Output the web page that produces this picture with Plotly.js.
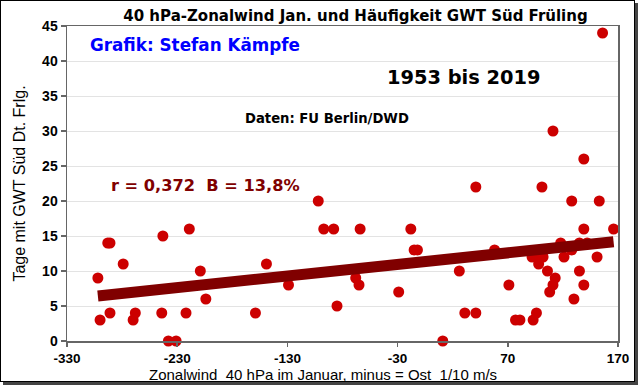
<!DOCTYPE html>
<html>
<head>
<meta charset="utf-8">
<script src="https://cdn.plot.ly/plotly-3.0.1.min.js"></script>
<style>
html,body{margin:0;padding:0;background:#fff;}
#frame{position:absolute;left:0;top:0;width:633px;height:380px;border:1px solid #000;box-shadow:3px 3px 0 #444;background:#fff;}
#chart{position:absolute;left:-1px;top:-1px;width:640px;height:387px;}
</style>
</head>
<body>
<div id="frame"></div>
<div id="chart"></div>
<script>
// Zonal wind 40 hPa January (1/10 m/s) vs. days with GWT Süd in spring, 1953-2019
const windJan = [-302,-300,-293,-291,-291,-279,-270,-268,-243,-244,-238,-231,-219,-222,-209,-204,-159,-149,-129,-102,
  -97,-88,-85,-68,-65,-64,-29,-18,-15,-12,11,26,31,41,41,58,71,77,81,93,
  96,92,96,102,98,101,106,113,111,108,111,118,121,128,128,130,135,135,139,139,
  139,142,151,153,166,156];
const daysSued = [9,3,14,14,4,11,3,4,15,4,0,0,16,4,10,6,4,11,8,20,
  16,16,5,9,8,16,7,16,13,13,0,10,4,4,22,13,8,3,3,3,
  4,12,12,12,11,22,10,9,8,7,30,14,12,20,13,6,10,14,16,26,
  8,14,12,20,16,44];
const xTicks = [-330,-230,-130,-30,70,170];
const yTicks = [0,5,10,15,20,25,30,35,40,45];

// linear regression from the data
const n = windJan.length;
const mx = windJan.reduce((a,b)=>a+b,0)/n;
const my = daysSued.reduce((a,b)=>a+b,0)/n;
let sxy=0, sxx=0;
for(let i=0;i<n;i++){ sxy += (windJan[i]-mx)*(daysSued[i]-my); sxx += (windJan[i]-mx)**2; }
const slope = sxy/sxx, icpt = my - slope*mx;
const xmin = Math.min(...windJan), xmax = Math.max(...windJan);
const trendX = [xmin, xmax];
const trendY = trendX.map(v => icpt + slope*v);

const F = 'Liberation Sans, Arial, sans-serif';
const FB = 'DejaVu Sans, Liberation Sans, sans-serif';

const traces = [
  {x: windJan, y: daysSued, type:'scatter', mode:'markers', cliponaxis:false,
   marker:{color:'#CC0000', size:11, line:{width:0}}, hoverinfo:'x+y'},
  {x: trendX, y: trendY, type:'scatter', mode:'lines', cliponaxis:false,
   line:{color:'#800000', width:11}, hoverinfo:'skip'}
];

const layout = {
  width:640, height:387,
  margin:{l:68, r:21, t:27, b:45},
  paper_bgcolor:'rgba(0,0,0,0)', plot_bgcolor:'#fff',
  showlegend:false,
  font:{family:F, color:'#000'},
  title:{text:'<b>40 hPa-Zonalwind Jan. und Häufigkeit GWT Süd Früling</b>',
         font:{family:FB, size:15, color:'#000'}, x:0.557, xanchor:'center', y:0.958, yanchor:'middle', xref:'container', yref:'container'},
  xaxis:{range:[-330,170], tickmode:'array', tickvals:xTicks, ticktext:xTicks.map(String),
         showgrid:false, zeroline:false, showline:true, linecolor:'#666', linewidth:1.5, mirror:true,
         ticks:'outside', ticklen:4, tickcolor:'#666', tickwidth:1.5,
         tickfont:{family:F, size:13.5, color:'#000', weight:'bold'}},
  yaxis:{range:[0,45], tickmode:'array', tickvals:yTicks, ticktext:yTicks.map(String),
         showgrid:true, gridcolor:'#e3e3e3', gridwidth:1, zeroline:false,
         showline:true, linecolor:'#666', linewidth:1.5, mirror:true,
         ticks:'outside', ticklen:5, tickcolor:'#666', tickwidth:1.5,
         tickfont:{family:F, size:14, color:'#000', weight:'bold'},
         title:{text:'Tage mit GWT Süd Dt. Frlg.', font:{family:F, size:16, color:'#000'}, standoff:12}},
  annotations:[
    {text:'Zonalwind  40 hPa im Januar, minus = Ost  1/10 m/s', xref:'paper', yref:'paper', x:0.4646, y:-0.106, xanchor:'center', yanchor:'middle', showarrow:false,
     font:{family:F, size:15, color:'#000'}},
    {text:'<b>Grafik: Stefan Kämpfe</b>', xref:'paper', yref:'paper', x:0.038, y:0.94, xanchor:'left', yanchor:'middle', showarrow:false,
     font:{family:FB, size:16.8, color:'#0000FF'}},
    {text:'<b>1953 bis 2019</b>', xref:'paper', yref:'paper', x:0.578, y:0.838, xanchor:'left', yanchor:'middle', showarrow:false,
     font:{family:FB, size:19.4, color:'#000'}},
    {text:'<b>Daten: FU Berlin/DWD</b>', xref:'paper', yref:'paper', x:0.624, y:0.705, xanchor:'right', yanchor:'middle', showarrow:false,
     font:{family:FB, size:13.2, color:'#000'}},
    {text:'<b>r = 0,372  B = 13,8%</b>', xref:'paper', yref:'paper', x:0.077, y:0.495, xanchor:'left', yanchor:'middle', showarrow:false,
     font:{family:FB, size:16.2, color:'#800000'}}
  ]
};

Plotly.newPlot('chart', traces, layout, {displayModeBar:false, staticPlot:true});
</script>
</body>
</html>
